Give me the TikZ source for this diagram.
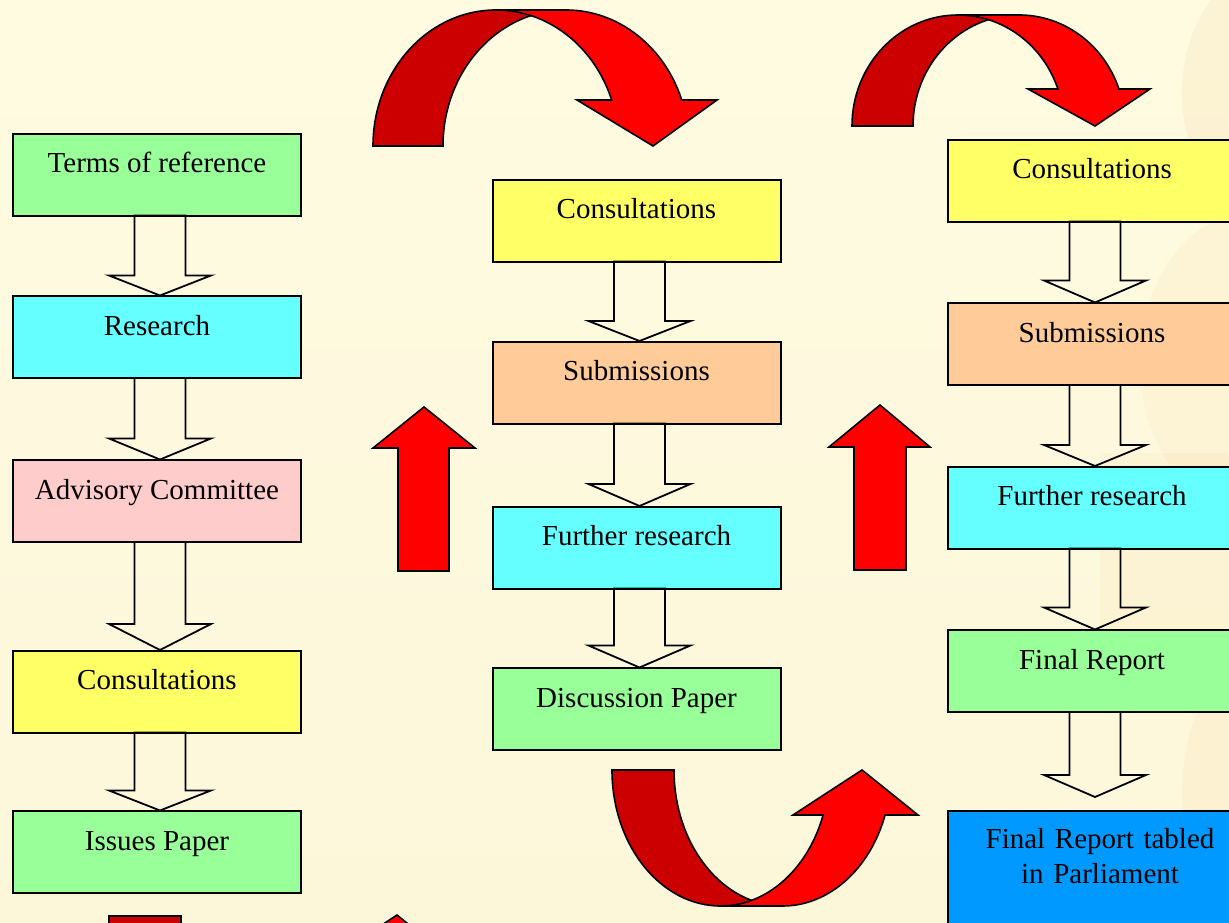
\documentclass[tikz,border=0pt]{standalone}
\usepackage{fontspec}
\setmainfont{Liberation Serif}
\usetikzlibrary{calc}
\definecolor{bgtop}{HTML}{FEFBE1}
\definecolor{bgmid}{HTML}{F8EBBA}
\definecolor{bgbot}{HTML}{FDF7DA}
\definecolor{boxgreen}{HTML}{99FF99}
\definecolor{boxcyan}{HTML}{66FFFF}
\definecolor{boxpink}{HTML}{FFCCCC}
\definecolor{boxyellow}{HTML}{FFFF66}
\definecolor{boxorange}{HTML}{FFCC99}
\definecolor{boxblue}{HTML}{0099FF}
\definecolor{darkred}{HTML}{CC0000}
\definecolor{brightred}{HTML}{FF0000}
\definecolor{decor}{HTML}{F5C78A}
\tikzset{
  stagebox/.style={draw=black, line width=2pt, minimum width=288pt, minimum height=82pt,
    text height=20pt, text depth=24pt, inner sep=0pt, font=\fontsize{29}{35}\selectfont},
  hollow/.style={draw=black, line width=1.8pt, line join=miter},
  redarrow/.style={fill=brightred, draw=black, line width=1.6pt, line join=miter},
  backband/.style={fill=darkred, draw=black, line width=1.6pt, line join=miter},
}
\newcommand\hollowarrow[4]{%
  \draw[hollow] ($(#1.south)+(-22.5,1.5)$) -- ($(#2.north)+(-22.5,#3+#4)$)
    -- ($(#2.north)+(-48,#3+#4)$) -- ($(#2.north)+(3,#4)$)
    -- ($(#2.north)+(54,#3+#4)$) -- ($(#2.north)+(28.5,#3+#4)$)
    -- ($(#1.south)+(28.5,1.5)$) -- cycle;}
\begin{document}
\begin{tikzpicture}[x=1pt,y=1pt]
\useasboundingbox (0,0) rectangle (1229,923);
\clip (0,0) rectangle (1229,923);
\shade[top color=bgtop, middle color=bgmid, bottom color=bgbot] (0,0) rectangle (1229,923);
% faint background decoration on the right
\fill[decor, opacity=0.14] (1262,830) ellipse (80 and 120);
\fill[decor, opacity=0.10] (1250,560) ellipse (110 and 150);
\fill[decor, opacity=0.10] (1100,230) rectangle (1229,470);
\fill[decor, opacity=0.12] (1262,130) ellipse (80 and 140);

% column 1
\node[stagebox, fill=boxgreen]  (t1) at (157,748)   {Terms of reference};
\node[stagebox, fill=boxcyan]   (r1) at (157,585.5) {Research};
\node[stagebox, fill=boxpink]   (a1) at (157,421.5) {Advisory Committee};
\node[stagebox, fill=boxyellow] (c1) at (157,231)   {Consultations};
\node[stagebox, fill=boxgreen]  (i1) at (157,70.5)  {Issues Paper};
% column 2
\node[stagebox, fill=boxyellow] (c2) at (636.5,702)   {Consultations};
\node[stagebox, fill=boxorange] (s2) at (636.5,540)   {Submissions};
\node[stagebox, fill=boxcyan]   (f2) at (636.5,375)   {Further research};
\node[stagebox, fill=boxgreen]  (d2) at (636.5,213.5) {Discussion Paper};
% column 3
\node[stagebox, fill=boxyellow] (c3)  at (1092,742)   {Consultations};
\node[stagebox, fill=boxorange] (s3)  at (1092,578.5) {Submissions};
\node[stagebox, fill=boxcyan]   (f3)  at (1092,415)   {Further research};
\node[stagebox, fill=boxgreen]  (fr3) at (1092,251.5) {Final Report};
\node[stagebox, fill=boxblue, anchor=north, minimum width=304pt, minimum height=130pt,
      text width=280pt, align=center, text height=22pt, text depth=76pt] (p3) at (1100,113)
      {Final Report tabled\\in Parliament};

% hollow block arrows
\hollowarrow{t1}{r1}{20}{0}
\hollowarrow{r1}{a1}{21}{0}
\hollowarrow{a1}{c1}{26}{0}
\hollowarrow{c1}{i1}{20}{0}
\hollowarrow{c2}{s2}{20}{0}
\hollowarrow{s2}{f2}{22}{0}
\hollowarrow{f2}{d2}{22}{0}
\hollowarrow{c3}{s3}{22}{0}
\hollowarrow{s3}{f3}{21}{0}
\hollowarrow{f3}{fr3}{22}{0}
\draw[hollow] ($(fr3.south)+(-22.5,1.5)$) -- ($(p3.north)+(-30.5,35)$)
    -- ($(p3.north)+(-56,35)$) -- ($(p3.north)+(-5,13)$)
    -- ($(p3.north)+(46,35)$) -- ($(p3.north)+(20.5,35)$)
    -- ($(fr3.south)+(28.5,1.5)$) -- cycle;

% red straight up arrows
\draw[redarrow] (398,352) -- (398,475) -- (373,475) -- (424,516) -- (475,475) -- (449,475) -- (449,352) -- cycle;
\draw[redarrow] (854,353) -- (854,476) -- (829,476) -- (880,518) -- (930,476) -- (906,476) -- (906,353) -- cycle;

% curved arrow top 1 (ellipses centred at x=496 and x=566)
\draw[backband] (373,777) arc[start angle=180,end angle=90,x radius=123,y radius=136]
  -- (566,913) arc[start angle=90,end angle=180,x radius=123,y radius=136] -- cycle;
\draw[redarrow] (496,913) -- (566,913) arc[start angle=90,end angle=19.77,x radius=123,y radius=136]
  -- (717,823) -- (653,777) -- (577,823) -- (611.7,823)
  arc[start angle=19.77,end angle=90,x radius=123,y radius=136] -- cycle;
% curved arrow top 2 (ellipses centred at x=958 and x=1019)
\draw[backband] (852,797) arc[start angle=180,end angle=90,x radius=106,y radius=111]
  -- (1019,908) arc[start angle=90,end angle=180,x radius=106,y radius=111] -- cycle;
\draw[redarrow] (958,908) -- (1019,908) arc[start angle=90,end angle=19.47,x radius=106,y radius=111]
  -- (1150,834) -- (1095,797) -- (1028,834) -- (1057.9,834)
  arc[start angle=19.47,end angle=90,x radius=106,y radius=111] -- cycle;
% curved arrow bottom (ellipses centred at x=720.6 and x=782.6)
\draw[backband] (612,153) arc[start angle=180,end angle=270,x radius=108.6,y radius=136]
  -- (782.6,17) arc[start angle=270,end angle=180,x radius=108.6,y radius=136] -- cycle;
\draw[redarrow] (720.6,17) -- (782.6,17) arc[start angle=270,end angle=340.67,x radius=108.6,y radius=136]
  -- (918,108) -- (862,153) -- (793,108) -- (823.1,108)
  arc[start angle=340.67,end angle=270,x radius=108.6,y radius=136] -- cycle;
% partly visible arrow at the bottom left
\draw[backband] (109,7) -- (181,7) -- (181,-30) -- (109,-30) -- cycle;
\draw[redarrow] (397,8) -- (461,-44) -- (318,-44) -- cycle;
\end{tikzpicture}
\end{document}
